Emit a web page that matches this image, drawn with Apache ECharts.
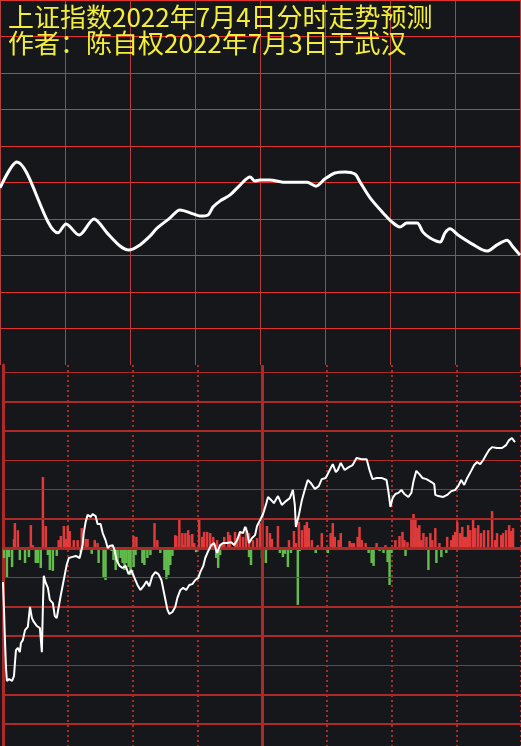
<!DOCTYPE html>
<html>
<head>
<meta charset="utf-8">
<script src="https://cdn.jsdelivr.net/npm/echarts@6/dist/echarts.min.js"></script>
<style>
  html, body { margin: 0; padding: 0; background: #16171a; }
  #main { width: 521px; height: 746px; }
</style>
</head>
<body>
<div id="main"></div>
<script>
var titleLines = ["上证指数2022年7月4日分时走势预测", "作者：陈自权2022年7月3日于武汉"];

// 上图 预测曲线 [分钟, 格]
var forecastLine = [
  [0, 4.85], [7.8, 5.56], [26.8, 3.62], [30.5, 3.86], [36.5, 3.56], [43.4, 4.0], [49.4, 3.62],
  [55.4, 3.26], [59.5, 3.15], [64.6, 3.29], [69.2, 3.53], [72.5, 3.75], [78.5, 4.03], [83.1, 4.25],
  [89.1, 4.14], [92.3, 4.08], [96, 4.11], [98.3, 4.33], [101.5, 4.49], [106.2, 4.66], [110.8, 4.93],
  [115.4, 5.15], [117.7, 5.04], [120, 5.07], [124.6, 5.07], [130.6, 5.01], [141.7, 5.01], [145.8, 4.9],
  [150, 5.1], [154.6, 5.26], [159.2, 5.29], [163.8, 5.23], [166.2, 5.01], [170.8, 4.58], [177.7, 4.11],
  [180.9, 3.92], [184.6, 3.78], [187.8, 3.89], [192.5, 3.89], [195.2, 3.64], [198.5, 3.48], [203.1, 3.37],
  [205.4, 3.62], [207.7, 3.73], [211.4, 3.56], [217.8, 3.32], [224.8, 3.12], [229.4, 3.29], [234, 3.42],
  [236.8, 3.23], [240, 3.01]
];

// 下图 分时走势 [分钟, 格]
var tickLine = [
  [0, -1.16], [0.5, -2.18], [0.9, -3.14], [1.4, -4.09], [1.8, -4.53], [2.8, -4.47], [4.2, -4.53],
  [5.1, -4.36], [5.5, -3.95], [6, -3.48], [6.9, -3.41], [7.8, -3.55], [8.3, -3.24], [9.2, -3.14],
  [10.2, -2.8], [11.5, -2.69], [12.5, -2.01], [13.4, -2.39], [14.3, -2.52], [15.7, -2.66], [17.1, -2.73],
  [18, -3.55], [18.5, -1.94], [18.9, -0.95], [19.8, -1.19], [20.8, -1.36], [21.7, -1.77], [23.1, -1.88],
  [24, -2.32], [24.9, -2.39], [25.8, -2.01], [26.8, -1.6], [27.7, -1.26], [28.6, -0.92], [29.5, -0.58],
  [30.5, -0.34], [31.8, -0.31], [33.7, -0.27], [35.5, -0.34], [36.9, 0.1], [37.4, 0.51], [38.3, 0.89],
  [39.2, 1.13], [40.6, 1.06], [41.5, 1.16], [42.9, 1.09], [43.8, 0.82], [45.2, 0.82], [46.2, 0.51],
  [47.5, 0.27], [48.5, 0], [49.4, 0.07], [50.8, 0.1], [51.7, -0.07], [52.6, -0.41], [54, -0.61],
  [55.4, -0.68], [56.8, -0.61], [58.2, -0.89], [59.5, -0.75], [60.9, -1.02], [62.3, -1.26], [63.7, -1.43],
  [65.1, -1.3], [66.5, -1.13], [67.8, -1.3], [69.2, -0.95], [70.6, -0.82], [72, -0.89], [73.4, -1.09],
  [74.8, -1.6], [76.2, -2.11], [77.1, -2.25], [78.5, -2.18], [79.8, -2.01], [80.8, -1.7], [82.2, -1.43],
  [83.5, -1.36], [84.9, -1.43], [86.3, -1.26], [87.7, -1.23], [89.1, -1.09], [90.5, -1.02], [91.4, -0.82],
  [92.8, -0.61], [93.7, -0.34], [95.1, -0.1], [96.5, 0.1], [97.8, 0.17], [99.2, -0.17], [100.6, 0.1],
  [102, 0.17], [103.8, 0.17], [105.7, 0.2], [107.1, 0.1], [108.5, 0.27], [109.8, 0.55], [111.2, 0.51],
  [112.2, 0.72], [113.1, 0.55], [114, 0.17], [115.4, 0.34], [116.8, 0.44], [117.7, 0.75], [119.1, 0.95],
  [120.5, 1.16], [121.8, 1.47], [122.8, 1.74], [124.2, 1.64], [125.5, 1.53], [127.4, 1.77], [129.2, 1.47],
  [131.1, 1.6], [132.9, 1.7], [134.3, 1.98], [135.2, 1.47], [135.7, 0.72], [137.1, 1.13], [138.5, 1.64],
  [139.8, 1.98], [141.2, 2.32], [142.6, 2.22], [144.5, 2.01], [146.3, 2.11], [147.7, 2.35], [149.5, 2.39],
  [151.4, 2.66], [152.8, 2.86], [154.2, 2.59], [155.1, 2.66], [156.5, 2.9], [158.3, 2.66], [160.2, 2.76],
  [162, 2.83], [163.8, 3.07], [166.2, 3.03], [168.5, 3.03], [169.8, 2.66], [171.2, 2.35], [173.1, 2.39],
  [175.4, 2.39], [177.7, 2.32], [178.6, 1.91], [179.5, 1.4], [180.5, 1.7], [181.8, 1.84], [183.2, 1.88],
  [184.6, 1.98], [186, 1.84], [187.8, 1.74], [189.2, 1.88], [190.2, 2.28], [191.5, 2.63], [192.9, 2.52],
  [194.3, 2.39], [196.2, 2.35], [198.5, 2.25], [199.8, 2.18], [200.3, 1.81], [201.7, 1.77], [204, 1.74],
  [205.8, 1.81], [207.7, 1.94], [209.5, 1.98], [210.9, 2.11], [212.3, 2.32], [213.7, 2.15], [215.1, 2.39],
  [216.9, 2.63], [218.3, 2.83], [219.7, 2.93], [221.1, 2.86], [222.5, 3.0], [223.8, 3.17], [225.2, 3.34],
  [226.6, 3.44], [228.9, 3.41], [231.2, 3.41], [233.1, 3.51], [234.5, 3.68], [235.8, 3.75], [237.2, 3.61]
];

// 红柱 [分钟, 格]
var buyBars = [
  [5.1, 0.31], [5.5, 0.85], [6.9, 0.61], [12.9, 0.78], [13.8, 0.1], [18.5, 2.42], [19.8, 0.75],
  [25.8, 0.27], [26.8, 0.41], [28.2, 0.75], [29.1, 0.31], [30, 0.75], [30.9, 0.58], [32.8, 0.27],
  [34.6, 0.27], [36.5, 0.68], [38.3, 0.31], [39.2, 0.31], [42.5, 0.27], [43.8, 0.17], [60.5, 0.41],
  [61.8, 0.38], [70.2, 0.85], [71.5, 0.27], [79.8, 0.44], [80.3, 0.41], [81.7, 1.02], [83.1, 0.51],
  [83.5, 0.1], [84.5, 0.51], [85.8, 0.61], [86.3, 0.44], [87.7, 0.48], [88.6, 0.17], [90.9, 0.99],
  [92.3, 0.38], [93.2, 0.55], [94.6, 0.55], [96, 0.51], [97.4, 0.38], [99.2, 0.27], [101.5, 0.17],
  [102.5, 0.38], [104.3, 0.55], [105.2, 0.44], [107.5, 0.55], [108.5, 0.34], [109.8, 0.55], [111.2, 0.38],
  [112.6, 0.72], [114, 0.51], [115.8, 0.27], [117.7, 0.34], [119.1, 0.85], [122.3, 0.75], [123.7, 0.51],
  [124.6, 0.31], [127.4, 0.75], [132.5, 0.27], [134.8, 0.58], [135.7, 0.17], [137.1, 0.89], [138.5, 0.61],
  [139.8, 0.78], [140.8, 0.89], [141.7, 0.68], [143.1, 0.27], [145.8, 0.1], [147.7, 0.51], [151.8, 0.51],
  [152.8, 0.85], [153.7, 0.38], [155.5, 0.27], [156.5, 0.51], [160.6, 0.24], [161.5, 0.17], [162.5, 0.17],
  [164.3, 0.38], [165.2, 0.72], [166.2, 0.27], [168, 0.17], [173.1, 0.17], [177.2, 0.1], [181.8, 0.27],
  [183.7, 0.41], [185.1, 0.55], [186, 0.27], [187.4, 0.2], [189.2, 1.02], [190.2, 1.16], [191.1, 1.02],
  [192, 0.68], [192.9, 0.78], [193.8, 0.27], [194.8, 0.51], [196.2, 0.38], [198, 0.51], [198.9, 0.27],
  [200.3, 0.68], [202.2, 0.17], [205.8, 0.38], [207.7, 0.27], [208.6, 0.44], [209.5, 0.55], [210.5, 0.89],
  [211.8, 0.51], [212.8, 0.72], [213.7, 0.38], [214.6, 0.38], [215.5, 0.78], [216.5, 0.61], [217.8, 0.99],
  [218.8, 0.68], [220.2, 0.78], [221.5, 0.51], [222.9, 0.61], [224.8, 0.61], [226.6, 1.26], [228, 0.27],
  [228.9, 0.51], [230.8, 0.44], [231.7, 0.51], [233.1, 0.61], [234.5, 0.78], [235.4, 0.58], [236.3, 0.68]
];

// 绿柱 [分钟, 格]
var sellBars = [
  [0.5, -0.34], [1.8, -1.02], [2.8, -0.31], [4.2, -0.65], [7.8, -0.41], [10.2, -0.51], [12, -0.31],
  [15.2, -0.51], [16.2, -0.51], [17.5, -0.68], [20.8, -0.24], [21.7, -0.75], [23.1, -0.78], [24.9, -0.27],
  [36, -0.14], [41.1, -0.2], [44.3, -0.51], [46.6, -0.99], [47.5, -1.09], [50.3, -0.1], [51.2, -0.41],
  [52.2, -0.75], [53.1, -0.51], [54.5, -0.34], [55.4, -0.51], [56.3, -0.75], [57.2, -0.51], [58.2, -0.65],
  [59.1, -0.92], [60.5, -0.65], [61.4, -0.24], [64.6, -0.51], [65.5, -0.58], [66.9, -0.34], [68.3, -0.24],
  [72.9, -0.17], [74.8, -0.75], [75.7, -1.06], [76.6, -0.92], [77.5, -0.58], [78.5, -0.27], [89.5, -0.14],
  [98.8, -0.34], [99.7, -0.68], [100.6, -0.24], [114, -0.31], [114.9, -0.58], [120, -0.34], [121.8, -0.51],
  [125.1, -0.07], [128.3, -0.17], [129.7, -0.31], [130.6, -0.2], [132, -0.65], [133.4, -0.17], [136.6, -1.94],
  [137.5, -0.1], [144.9, -0.17], [150.5, -0.17], [154.2, -0.07], [159.2, -0.07], [169.4, -0.17], [170.8, -0.51],
  [171.7, -0.61], [174.5, -0.1], [176.3, -0.17], [178.2, -0.48], [179.1, -1.26], [180, -0.17], [186.5, -0.27],
  [197.1, -0.75], [200.8, -0.51], [203.1, -0.31], [205.4, -0.17]
];

// 下图水平格线
var levelLines = [6, 5, 4, 3, 2, 1, 0, -1, -2, -3, -4, -5, -6];
var levelWidths = [1, 2, 2, 1, 1, 2, 3, 1, 2, 2, 1, 2, 2];

var bright = "#e2312f";
var dim = "#b3403e";
var dark = "#ad2a29";
var font = "Noto Sans CJK SC";

var chartDom = document.getElementById("main");
var myChart = echarts.init(chartDom);
var option;

option = {
    backgroundColor: "#16171a",
    animation: false,
    title: titleLines.map(function (t, i) {
        return {
            text: t,
            left: 3,
            top: -1 + i * 26,
            textStyle: { color: "#f3ee3b", fontSize: 26, fontWeight: "normal", fontFamily: font },
        };
    }),
    grid: [
        { left: 0, top: 0, width: 520, height: 365 },
        { left: 3, top: 365, width: 520, height: 381 },
    ],
    xAxis: [
        {
            gridIndex: 0,
            type: "value",
            min: 0,
            max: 240,
            interval: 30,
            axisLine: { show: false },
            axisTick: { show: false },
            axisLabel: { show: false },
            splitLine: { show: true, lineStyle: { color: dim, width: 1 } },
        },
        {
            gridIndex: 1,
            type: "value",
            min: 0,
            max: 240,
            interval: 30,
            axisLine: { show: false },
            axisTick: { show: false },
            axisLabel: { show: false },
            splitLine: {
                show: true,
                showMinLine: false,
                lineStyle: { color: dark, width: 2, type: [2, 3] },
            },
        },
    ],
    yAxis: [
        {
            gridIndex: 0,
            type: "value",
            min: 0,
            max: 10,
            interval: 1,
            axisLine: { show: false },
            axisTick: { show: false },
            axisLabel: { show: false },
            splitLine: { show: true, showMinLine: false, lineStyle: { color: bright, width: 1 } },
        },
        {
            gridIndex: 1,
            type: "value",
            min: -6.75,
            max: 6.24,
            axisLine: { show: true, lineStyle: { color: dark, width: 3 } },
            axisTick: { show: false },
            axisLabel: { show: false },
            splitLine: { show: false },
        },
    ],
    series: [
        {
            type: "line",
            xAxisIndex: 0,
            yAxisIndex: 0,
            data: forecastLine,
            smooth: 0.3,
            symbol: "none",
            lineStyle: { color: "#ffffff", width: 3 },
        },
        {
            type: "bar",
            xAxisIndex: 1,
            yAxisIndex: 1,
            barWidth: 2.5,
            data: buyBars.concat(sellBars),
            itemStyle: {
                color: function (p) {
                    return p.value[1] >= 0 ? "#e23a3a" : "#62bb4d";
                },
            },
            markLine: {
                silent: true,
                symbol: "none",
                label: { show: false },
                data: levelLines
                    .map(function (v, i) {
                        return {
                            yAxis: v,
                            lineStyle: { color: dark, width: levelWidths[i], type: "solid" },
                        };
                    })
                    .concat([{ xAxis: 120, lineStyle: { color: dark, width: 3, type: "solid" } }]),
            },
        },
        {
            type: "line",
            xAxisIndex: 1,
            yAxisIndex: 1,
            data: tickLine,
            symbol: "none",
            z: 5,
            lineStyle: { color: "#ffffff", width: 2 },
        },
    ],
};

option && myChart.setOption(option);
</script>
</body>
</html>
